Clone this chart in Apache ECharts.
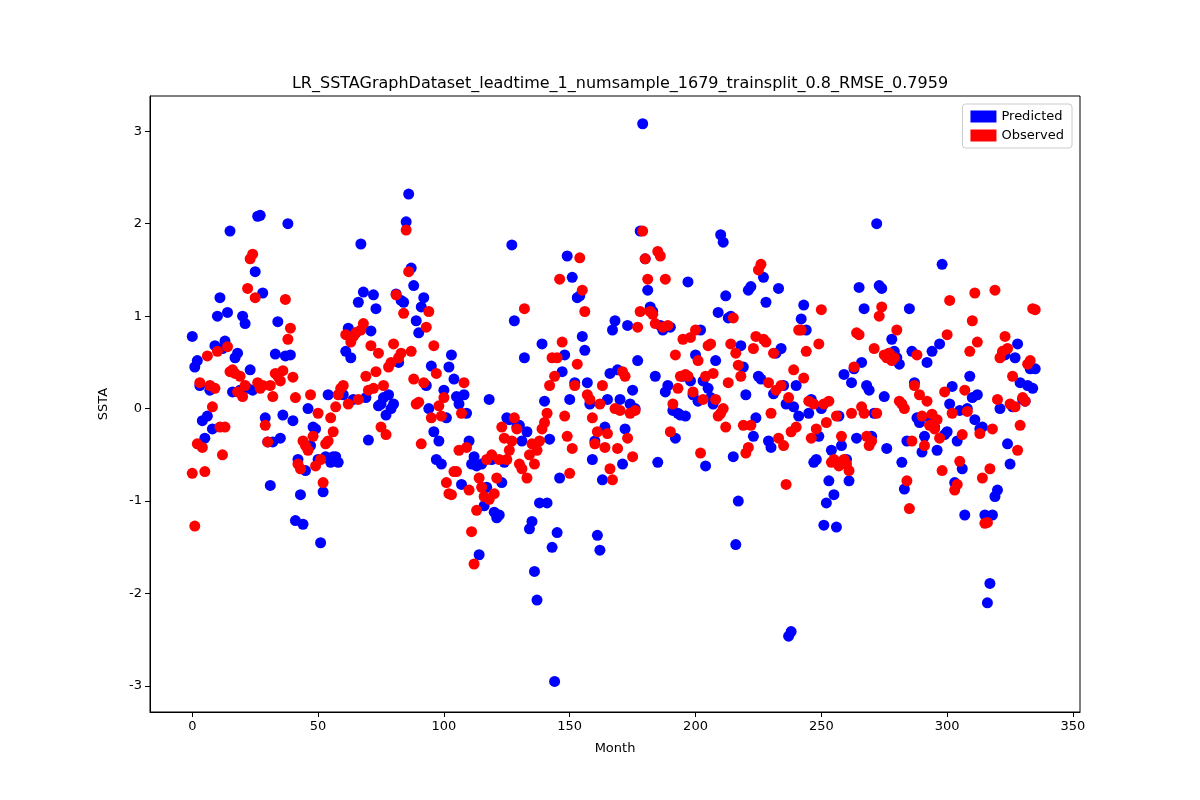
<!DOCTYPE html>
<html>
<head>
<meta charset="utf-8">
<script src="https://cdn.jsdelivr.net/npm/echarts@6/dist/echarts.min.js"></script>
<style>html,body{margin:0;padding:0;background:#fff}#chart{width:1200px;height:800px}</style>
</head>
<body>
<div id="chart"></div>
<script>
// predicted SSTA, month 0..335
var predicted = [
  0.78,0.45,0.52,0.25,-0.13,-0.32,-0.08,0.2,-0.22,0.68,
  1.0,1.2,0.65,0.73,1.04,1.92,0.18,0.55,0.6,0.2,
  1.0,0.92,0.22,0.42,0.2,1.48,2.08,2.09,1.25,-0.1,
  -0.36,-0.83,-0.36,0.59,0.94,-0.32,-0.07,0.57,2.0,0.58,
  -0.13,-1.21,-0.55,-0.93,-1.25,-0.67,0.0,-0.4,-0.2,-0.22,
  -0.55,-1.45,-0.9,-0.52,0.15,-0.58,-0.52,-0.52,-0.58,0.18,
  0.15,0.62,0.87,0.55,0.1,0.82,1.15,1.78,1.26,0.12,
  -0.34,0.84,1.23,1.08,0.03,0.05,0.12,-0.07,0.15,0.0,
  0.05,1.24,0.5,1.17,1.15,2.02,2.32,1.52,1.33,0.95,
  0.82,1.1,1.2,0.25,0.0,0.46,-0.25,-0.55,-0.35,-0.6,
  0.2,-0.1,0.45,0.58,0.32,0.13,0.05,-0.82,0.15,-0.05,
  -0.35,-0.6,-0.52,-0.62,-1.58,-0.6,-1.05,-0.85,0.1,-0.55,
  -1.12,-1.18,-1.15,-0.8,-0.58,-0.1,-0.12,1.77,0.95,-0.2,
  -0.18,-0.35,0.55,-0.25,-1.3,-1.22,-1.76,-2.07,-1.02,0.7,
  0.08,-1.02,-0.33,-1.5,-2.95,-1.34,-0.75,0.4,0.58,1.65,
  0.1,1.42,0.28,1.2,1.22,0.78,0.63,0.28,0.05,-0.55,
  -0.35,-1.37,-1.53,-0.77,-0.2,0.1,0.38,0.85,0.95,0.42,
  0.1,-0.6,-0.22,0.9,0.05,0.2,0.0,0.52,1.92,3.08,
  1.62,1.28,1.1,1.05,0.35,-0.58,0.9,0.85,0.18,0.25,
  0.88,-0.02,-0.32,-0.05,-0.07,0.35,-0.08,1.37,0.3,0.15,
  0.58,0.08,0.85,0.3,-0.62,0.22,0.12,0.05,0.52,1.04,
  1.88,1.8,1.22,0.98,1.0,-0.52,-1.47,-1.0,0.68,0.45,
  0.15,1.28,1.32,-0.3,-0.1,0.35,0.32,1.42,1.15,-0.35,
  -0.42,0.16,0.6,1.3,0.65,0.25,0.05,-2.46,-2.41,0.02,
  0.25,-0.08,0.97,1.12,0.85,-0.05,0.1,-0.58,-0.55,-0.3,
  0.0,-1.26,-1.02,-0.78,-0.45,-0.93,-1.28,-0.08,-0.4,0.37,
  -0.55,-0.78,0.28,0.43,-0.32,1.31,0.5,1.08,0.25,0.2,
  -0.3,-0.05,2.0,1.33,1.3,0.13,-0.43,0.6,0.75,0.62,
  0.55,0.48,-0.58,-0.87,-0.35,1.08,0.62,0.28,-0.1,-0.15,
  -0.47,-0.3,0.5,-0.1,0.62,-0.2,-0.45,0.7,1.56,-0.28,
  -0.25,0.05,0.24,-0.8,-0.35,-0.02,-0.65,-1.15,0.0,0.35,
  0.12,-0.12,0.15,-0.22,-0.2,-1.15,-2.1,-1.89,-1.15,-0.95,
  -0.88,0.0,0.6,0.58,-0.38,-0.6,0.02,0.55,0.7,0.28,
  0.1,0.08,0.25,0.43,0.22,0.43
];
// observed SSTA, month 0..335
var observed = [
  -0.70,-1.27,-0.38,0.28,-0.42,-0.68,0.57,0.25,0.02,0.22,
  0.62,-0.2,-0.5,-0.2,0.67,0.4,0.42,0.38,0.18,0.35,
  0.13,0.25,1.3,1.62,1.67,1.2,0.28,0.22,0.25,-0.18,
  -0.36,0.25,0.13,0.38,0.35,0.3,0.41,1.18,0.75,0.87,
  0.34,0.12,-0.6,-0.65,-0.35,-0.4,-0.45,0.15,-0.3,-0.62,
  -0.05,-0.55,-0.8,-0.38,-0.35,-0.1,-0.25,0.02,0.15,0.22,
  0.25,0.8,0.05,0.72,0.78,0.82,0.1,0.85,0.92,0.35,
  0.2,0.68,0.22,0.4,0.6,-0.2,0.25,-0.28,0.45,0.5,
  0.7,1.23,0.55,0.6,1.03,1.93,1.48,0.62,0.32,0.05,
  0.07,-0.38,0.28,0.88,1.05,-0.1,0.68,0.38,0.03,-0.08,
  0.12,-0.8,-0.92,-0.93,-0.68,-0.68,-0.45,-0.05,0.28,-0.42,
  -0.88,-1.33,-1.68,-1.1,-0.75,-0.85,-0.95,-0.55,-0.98,-0.5,
  -0.92,-0.75,-0.55,-0.2,-0.32,-0.55,-0.45,-0.35,-0.1,-0.22,
  -0.6,-0.65,1.08,-0.75,-0.5,-0.38,-0.6,-0.45,-0.35,-0.22,
  -0.15,-0.05,0.25,0.55,0.35,0.55,1.4,0.72,-0.08,-0.3,
  -0.7,-0.43,0.25,0.48,1.63,1.28,1.05,0.15,0.1,-0.1,
  -0.38,-0.25,0.05,0.25,-0.42,-0.27,-0.65,-0.77,0.0,-0.43,
  -0.02,0.4,0.35,-0.32,-0.05,-0.52,-0.02,0.88,1.05,1.92,
  1.62,1.4,1.05,1.02,0.92,1.7,1.65,0.88,1.4,0.9,
  -0.25,0.05,0.58,0.22,0.35,0.75,0.37,0.35,0.77,0.18,
  0.85,0.52,-0.48,0.1,0.35,0.68,0.7,0.38,0.1,-0.08,
  -0.05,0.0,-0.2,0.28,0.7,0.98,0.6,0.47,0.35,-0.18,
  -0.48,-0.42,-0.18,0.65,0.78,1.5,1.56,0.75,0.72,0.28,
  -0.05,0.6,0.2,-0.32,0.25,-0.4,-0.82,0.12,-0.25,0.42,
  -0.2,0.85,0.85,0.33,0.62,0.08,-0.32,0.05,-0.22,0.7,
  1.07,0.05,-0.15,0.08,-0.58,-0.55,-0.08,-0.62,-0.3,-0.55,
  -0.6,-0.67,-0.05,0.45,0.82,0.8,0.02,-0.05,-0.3,-0.4,
  -0.35,0.65,-0.05,1.0,1.1,0.58,0.55,0.6,0.52,0.55,
  0.85,0.08,0.05,0.0,-0.78,-1.08,-0.35,0.25,0.58,0.15,
  -0.08,-0.4,0.08,-0.18,-0.06,-0.22,-0.12,-0.32,-0.67,0.18,
  0.8,1.17,-0.05,-0.88,-0.82,-0.57,-0.28,0.2,-0.03,0.62,
  0.95,1.25,0.72,-0.27,-0.75,-1.24,-1.23,-0.65,-0.22,1.28,
  0.1,0.55,0.62,0.78,0.65,0.05,0.35,0.02,-0.45,-0.18,
  0.12,0.08,0.48,0.52,1.08,1.07
];
var xTicks = [0, 50, 100, 150, 200, 250, 300, 350];
var yTicks = [-3, -2, -1, 0, 1, 2, 3];

function pairs(arr) {
    return arr.map(function(v, i) { return [i, v]; });
}

var chart = echarts.init(document.getElementById('chart'));
var font = 'DejaVu Sans';
var option = {
    animation: false,
    title: {
        text: 'LR_SSTAGraphDataset_leadtime_1_numsample_1679_trainsplit_0.8_RMSE_0.7959',
        left: 615, top: 71, textAlign: 'center',
        textStyle: { fontFamily: font, fontSize: 16, fontWeight: 'normal', color: '#000' }
    },
    legend: {
        right: 128, top: 104, orient: 'vertical', itemGap: 6,
        itemWidth: 26, itemHeight: 12, icon: 'rect',
        padding: [6, 8, 6, 8],
        borderColor: '#ccc', borderWidth: 1, borderRadius: 3,
        textStyle: { fontFamily: font, fontSize: 13, color: '#000' },
        data: ['Predicted', 'Observed']
    },
    grid: { left: 150, right: 120, top: 96, bottom: 88 },
    xAxis: {
        type: 'value', min: -16.8, max: 352.8,
        name: 'Month', nameLocation: 'middle', nameGap: 30,
        nameTextStyle: { fontFamily: font, fontSize: 13, color: '#000' },
        axisLine: { onZero: false, lineStyle: { color: '#000' } },
        axisTick: { show: true, customValues: xTicks, length: 5, lineStyle: { color: '#000' } },
        axisLabel: { customValues: xTicks, fontFamily: font, fontSize: 13, color: '#000' },
        splitLine: { show: false }
    },
    yAxis: {
        type: 'value', min: -3.28, max: 3.38,
        name: 'SSTA', nameLocation: 'middle', nameGap: 40,
        nameTextStyle: { fontFamily: font, fontSize: 13, color: '#000' },
        axisLine: { show: true, onZero: false, lineStyle: { color: '#000' } },
        axisTick: { show: true, customValues: yTicks, length: 5, lineStyle: { color: '#000' } },
        axisLabel: { customValues: yTicks, fontFamily: font, fontSize: 13, color: '#000' },
        splitLine: { show: false }
    },
    series: [
        { name: 'Predicted', type: 'scatter', symbolSize: 11, data: pairs(predicted),
          itemStyle: { color: '#0000ff', opacity: 1 } },
        { name: 'Observed', type: 'scatter', symbolSize: 11, data: pairs(observed),
          itemStyle: { color: '#ff0000', opacity: 1 } }
    ]
};
chart.setOption(option);
// box around plot area, as matplotlib draws it
chart.setOption({
    graphic: [{ type: 'rect', shape: { x: 150, y: 96, width: 930, height: 616 },
        style: { fill: 'none', stroke: '#000', lineWidth: 1 }, silent: true }]
});
</script>
</body>
</html>
